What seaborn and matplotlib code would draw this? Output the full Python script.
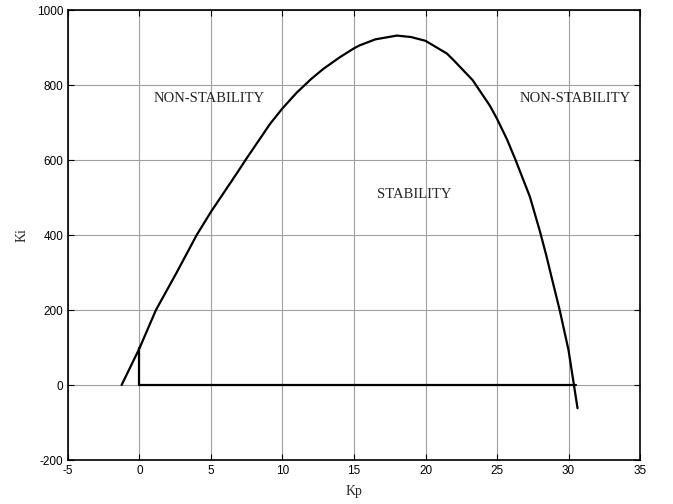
import matplotlib
matplotlib.use("Agg")
import matplotlib.pyplot as plt
import seaborn as sns
import pandas as pd

# boundary curve
kp_curve = [-1.25, 0.0, 1.15, 2.6, 4.0, 5.0, 6.9, 7.5, 8.41, 9.12, 10.0, 11.0,
            12.0, 12.85, 14.0, 15.0, 15.4, 16.5, 18.0, 19.0, 20.0, 21.5, 21.95, 23.3,
            24.5, 25.0, 25.7, 26.3, 27.3, 28.0, 28.45, 28.8, 29.4, 30.0, 30.38, 30.63]
ki_curve = [0, 98, 200, 300, 400, 462, 570, 605, 656, 696, 738, 780,
            816, 843, 874, 898, 906, 922, 932, 928, 918, 884, 867, 813,
            745, 710, 655, 600, 502, 410, 345, 290, 197, 93, 0, -62]

# vertical segment at Kp = 0 and horizontal segment along Ki = 0
kp_vert = [0.0, 0.0]
ki_vert = [98, 0]
kp_horiz = [0.0, 30.5]
ki_horiz = [0, 0]

labels = ["NON-STABILITY", "NON-STABILITY", "STABILITY"]
label_kp = [4.9, 30.5, 19.2]
label_ki = [765, 765, 507]

xticks = [-5, 0, 5, 10, 15, 20, 25, 30, 35]
yticks = [-200, 0, 200, 400, 600, 800, 1000]

sns.set_style("white")
plt.rcParams["font.family"] = ["Liberation Sans", "DejaVu Sans"]
plt.rcParams["axes.unicode_minus"] = False

fig = plt.figure(figsize=(6.73, 5.04), dpi=100)
ax = fig.add_axes([0.101, 0.0873, 0.850, 0.8927])

df_curve = pd.DataFrame({"Kp": kp_curve, "Ki": ki_curve})
df_vert = pd.DataFrame({"Kp": kp_vert, "Ki": ki_vert})
df_horiz = pd.DataFrame({"Kp": kp_horiz, "Ki": ki_horiz})

for d in (df_curve, df_vert, df_horiz):
    sns.lineplot(data=d, x="Kp", y="Ki", sort=False, estimator=None,
                 color="black", linewidth=1.6, ax=ax, zorder=3)

ax.set_xlim(-5, 35)
ax.set_ylim(-200, 1000)
ax.set_xticks(xticks)
ax.set_yticks(yticks)
ax.grid(True, color="#a0a0a0", linewidth=0.8, linestyle="-")
ax.set_axisbelow(True)
ax.tick_params(direction="in", length=4, width=0.8, labelsize=8.5,
               top=True, right=True, bottom=True, left=True, colors="black")
for s in ax.spines.values():
    s.set_visible(True)
    s.set_color("black")
    s.set_linewidth(1.2)

serif = ["Liberation Serif", "DejaVu Serif"]
ax.set_xlabel("Kp", family=serif, fontsize=10, labelpad=5.5)
ax.set_ylabel("Ki", family=serif, fontsize=10, labelpad=6)

for t, x, y in zip(labels, label_kp, label_ki):
    ax.text(x, y, t, family=serif, fontsize=10.5, ha="center", va="center")

fig.savefig("out.png", dpi=100)
